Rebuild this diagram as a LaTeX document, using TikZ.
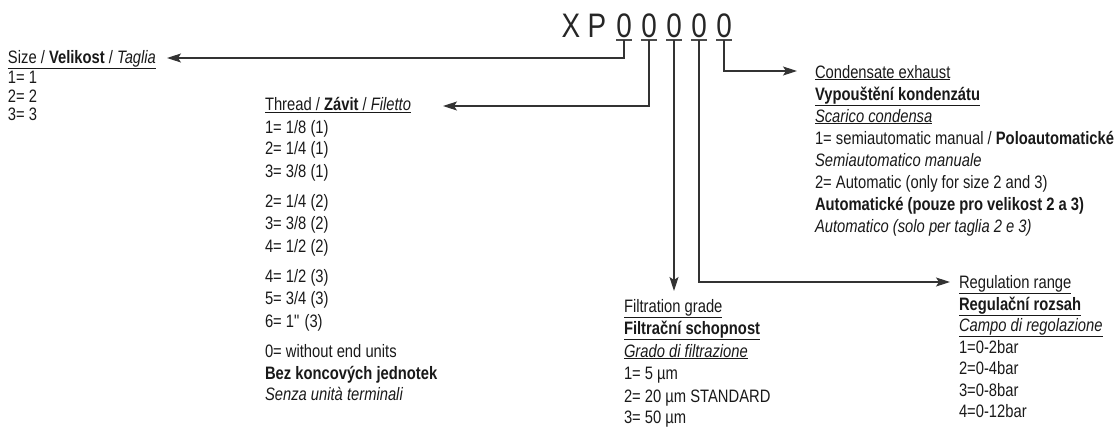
\documentclass[tikz,border=0pt]{standalone}
\usepackage{fontspec}
\setmainfont{Liberation Sans}[FakeStretch=0.82]
\usetikzlibrary{arrows.meta}
\begin{document}
\begin{tikzpicture}[x=1pt,y=-1pt,
  txt/.style={inner sep=0pt, outer sep=0pt, anchor=base west, text=black!90, font=\fontsize{18}{21.5}\selectfont},
  code/.style={inner sep=0pt, anchor=base, text=black!85, font=\fontsize{34}{40}\selectfont},
  conn/.style={draw=black!80, line width=1.2pt},
  arr/.style={conn, -{Stealth[length=14pt,width=9pt,inset=3pt]}},
  bar/.style={draw=black!70, line width=1.4pt}]
\useasboundingbox (0,0) rectangle (1117,426);
% code
\node[code] (X) at (571,37) {X};
\node[code] (P) at (597,37) {P};
\node[code] (d1) at (624,37) {0};
\node[code] (d2) at (649,37) {0};
\node[code] (d3) at (674,37) {0};
\node[code] (d4) at (699,37) {0};
\node[code] (d5) at (724,37) {0};
\foreach \x [count=\i] in {624,649,674,699,724}{
  \draw[bar] (\x-8,40) -- (\x+8,40);
  \coordinate (u\i) at (\x,40);
}
% arrow tips
\coordinate (t1) at (167,58);
\coordinate (t2) at (443,106);
\coordinate (t3) at (674,291);
\coordinate (t4) at (950,282);
\coordinate (t5) at (797,71);
\draw[arr] (u1) |- (t1);
\draw[arr] (u2) |- (t2);
\draw[arr] (u3) -- (t3);
\draw[arr] (u4) |- (t4);
\draw[arr] (u5) |- (t5);
% size
\node[txt] (s0) at (8,63.5) {\underline{Size / \textbf{Velikost} / \textit{Taglia}}};
\node[txt] (s1) at (8,83.5) {1= 1};
\node[txt] (s2) at (8,102) {2= 2};
\node[txt] (s3) at (8,120.5) {3= 3};
% thread
\node[txt] (h0) at (265,110.5) {\underline{Thread / \textbf{Závit} / \textit{Filetto}}};
\node[txt] (h1) at (265,133) {1= 1/8 (1)};
\node[txt] (h2) at (265,154.5) {2= 1/4 (1)};
\node[txt] (h3) at (265,177) {3= 3/8 (1)};
\node[txt] (h4) at (265,207) {2= 1/4 (2)};
\node[txt] (h5) at (265,229) {3= 3/8 (2)};
\node[txt] (h6) at (265,252) {4= 1/2 (2)};
\node[txt] (h7) at (265,282) {4= 1/2 (3)};
\node[txt] (h8) at (265,304) {5= 3/4 (3)};
\node[txt] (h9) at (265,327) {6= 1\textquotedbl\ (3)};
\node[txt] (h10) at (265,357) {0= without end units};
\node[txt] (h11) at (265,379) {\textbf{Bez koncových jednotek}};
\node[txt] (h12) at (265,400.5) {\textit{Senza unità terminali}};
% condensate
\node[txt] (c0) at (815,78) {\underline{Condensate exhaust}};
\node[txt] (c1) at (815,100) {\underline{\textbf{Vypouštění kondenzátu}}};
\node[txt] (c2) at (815,122) {\underline{\textit{Scarico condensa}}};
\node[txt] (c3) at (815,144) {1= semiautomatic manual / \textbf{Poloautomatické}};
\node[txt] (c4) at (815,166) {\textit{Semiautomatico manuale}};
\node[txt] (c5) at (815,188) {2= Automatic (only for size 2 and 3)};
\node[txt] (c6) at (815,210) {\textbf{Automatické (pouze pro velikost 2 a 3)}};
\node[txt] (c7) at (815,232) {\textit{Automatico (solo per taglia 2 e 3)}};
% filtration
\node[txt] (f0) at (624,312.5) {\underline{Filtration grade}};
\node[txt] (f1) at (624,334.5) {\underline{\textbf{Filtrační schopnost}}};
\node[txt] (f2) at (624,357) {\underline{\textit{Grado di filtrazione}}};
\node[txt] (f3) at (624,379.5) {1= 5 µm};
\node[txt] (f4) at (624,402) {2= 20 µm STANDARD};
\node[txt] (f5) at (624,423.5) {3= 50 µm};
% regulation
\node[txt] (r0) at (959,288.5) {\underline{Regulation range}};
\node[txt] (r1) at (959,310) {\underline{\textbf{Regulační rozsah}}};
\node[txt] (r2) at (959,331.5) {\underline{\textit{Campo di regolazione}}};
\node[txt] (r3) at (959,353) {1=0-2bar};
\node[txt] (r4) at (959,374.5) {2=0-4bar};
\node[txt] (r5) at (959,396) {3=0-8bar};
\node[txt] (r6) at (959,417.5) {4=0-12bar};
\end{tikzpicture}
\end{document}
